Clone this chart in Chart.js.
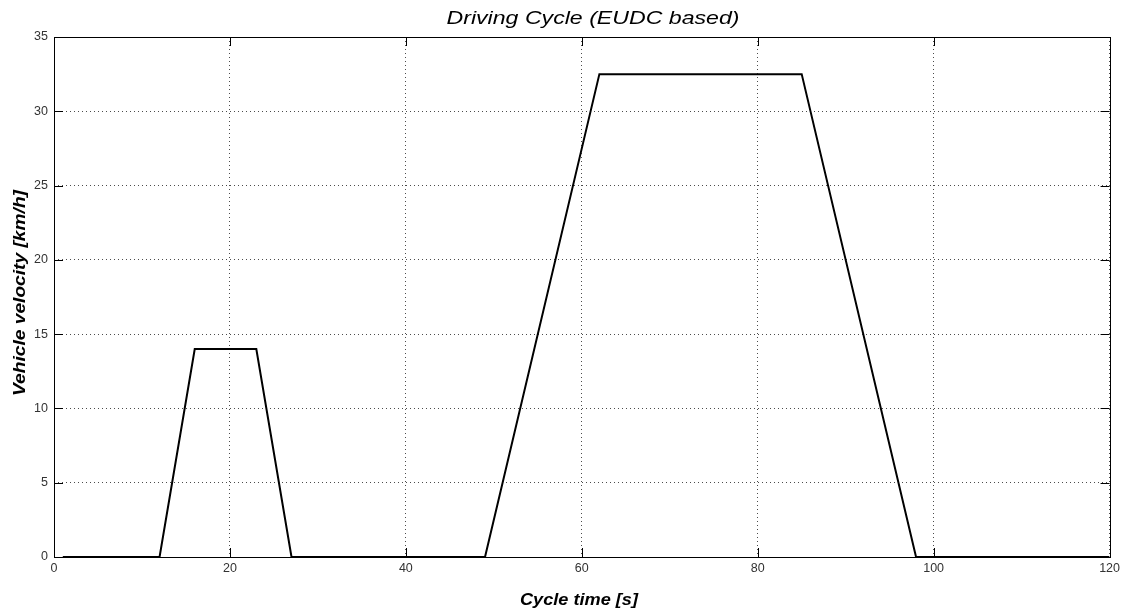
<!DOCTYPE html>
<html>
<head>
<meta charset="utf-8">
<script src="https://cdn.jsdelivr.net/npm/chart.js"></script>
<style>
  body { margin: 0; background: #fff; }
</style>
</head>
<body>
<canvas id="myChart" width="1124" height="612"></canvas>
<script>
var timeData = [1, 12, 16, 23, 27, 49, 62, 85, 98, 120];
var speedData = [0, 0, 14, 14, 0, 0, 32.5, 32.5, 0, 0];
var xTicks = [0, 20, 40, 60, 80, 100, 120];
var yTicks = [0, 5, 10, 15, 20, 25, 30, 35];
var chartTitle = "Driving Cycle (EUDC based)";
var xLabel = "Cycle time [s]";
var yLabel = "Vehicle velocity [km/h]";

var points = timeData.map(function (t, i) { return { x: t, y: speedData[i] }; });

// text stretched along its own direction to the wanted width
function wideText(ctx, text, w) {
  var m = ctx.measureText(text).width;
  ctx.save();
  ctx.scale(w / m, 1);
  ctx.fillText(text, 0, 0);
  ctx.restore();
}

// box round the axes, inward tick marks and the three labels (MATLAB look)
var matlabFrame = {
  id: 'matlabFrame',
  afterDraw: function (chart) {
    var ctx = chart.ctx;
    var a = chart.chartArea;
    var sx = chart.scales.x, sy = chart.scales.y;
    var tl = 9;
    ctx.save();
    ctx.strokeStyle = '#000';
    ctx.lineWidth = 1;
    ctx.beginPath();
    xTicks.forEach(function (v) {
      var px = Math.round(sx.getPixelForValue(v)) + 0.5;
      ctx.moveTo(px, a.bottom); ctx.lineTo(px, a.bottom - tl);
      ctx.moveTo(px, a.top); ctx.lineTo(px, a.top + tl);
    });
    yTicks.forEach(function (v) {
      var py = Math.round(sy.getPixelForValue(v)) + 0.5;
      ctx.moveTo(a.left, py); ctx.lineTo(a.left + tl, py);
      ctx.moveTo(a.right, py); ctx.lineTo(a.right - tl, py);
    });
    ctx.stroke();
    ctx.strokeRect(Math.round(a.left) + 0.5, Math.round(a.top) + 0.5,
      Math.round(a.right - a.left), Math.round(a.bottom - a.top));

    ctx.fillStyle = '#000';
    ctx.textAlign = 'center';
    ctx.textBaseline = 'middle';

    ctx.save();
    ctx.font = 'italic 18px "Liberation Sans", Arial, sans-serif';
    ctx.translate(593, 19);
    wideText(ctx, chartTitle, 293);
    ctx.restore();

    ctx.font = 'italic bold 17px "Liberation Sans", Arial, sans-serif';
    ctx.save();
    ctx.translate(579, 600);
    wideText(ctx, xLabel, 118);
    ctx.restore();

    ctx.save();
    ctx.translate(20, 293);
    ctx.rotate(-Math.PI / 2);
    wideText(ctx, yLabel, 206);
    ctx.restore();
    ctx.restore();
  }
};

var ctx1 = document.getElementById("myChart");
var cycleChart = new Chart(ctx1, {
  type: 'scatter',
  data: {
    datasets: [{
      data: points,
      showLine: true,
      borderColor: '#000',
      borderWidth: 2,
      pointRadius: 0,
      tension: 0
    }]
  },
  options: {
    responsive: false,
    animation: false,
    layout: { padding: { top: 37, right: 13, left: 0, bottom: 0 } },
    plugins: {
      legend: { display: false },
      tooltip: { enabled: false }
    },
    scales: {
      x: {
        type: 'linear',
        min: 0,
        max: 120,
        afterBuildTicks: function (scale) {
          scale.ticks = xTicks.map(function (v) { return { value: v }; });
        },
        afterFit: function (scale) { scale.height = 55; },
        grid: { color: 'rgba(0,0,0,0.7)', drawTicks: false },
        border: { display: false, dash: [1, 3] },
        ticks: {
          padding: 4,
          maxRotation: 0,
          color: '#333',
          font: { family: '"Liberation Sans", Arial, sans-serif', size: 12.5 }
        }
      },
      y: {
        type: 'linear',
        min: 0,
        max: 35,
        afterBuildTicks: function (scale) {
          scale.ticks = yTicks.map(function (v) { return { value: v }; });
        },
        afterFit: function (scale) { scale.width = 54; },
        grid: { color: 'rgba(0,0,0,0.7)', drawTicks: false },
        border: { display: false, dash: [1, 3] },
        ticks: {
          padding: 6,
          color: '#333',
          font: { family: '"Liberation Sans", Arial, sans-serif', size: 12.5 }
        }
      }
    }
  },
  plugins: [matlabFrame]
});
</script>
</body>
</html>
